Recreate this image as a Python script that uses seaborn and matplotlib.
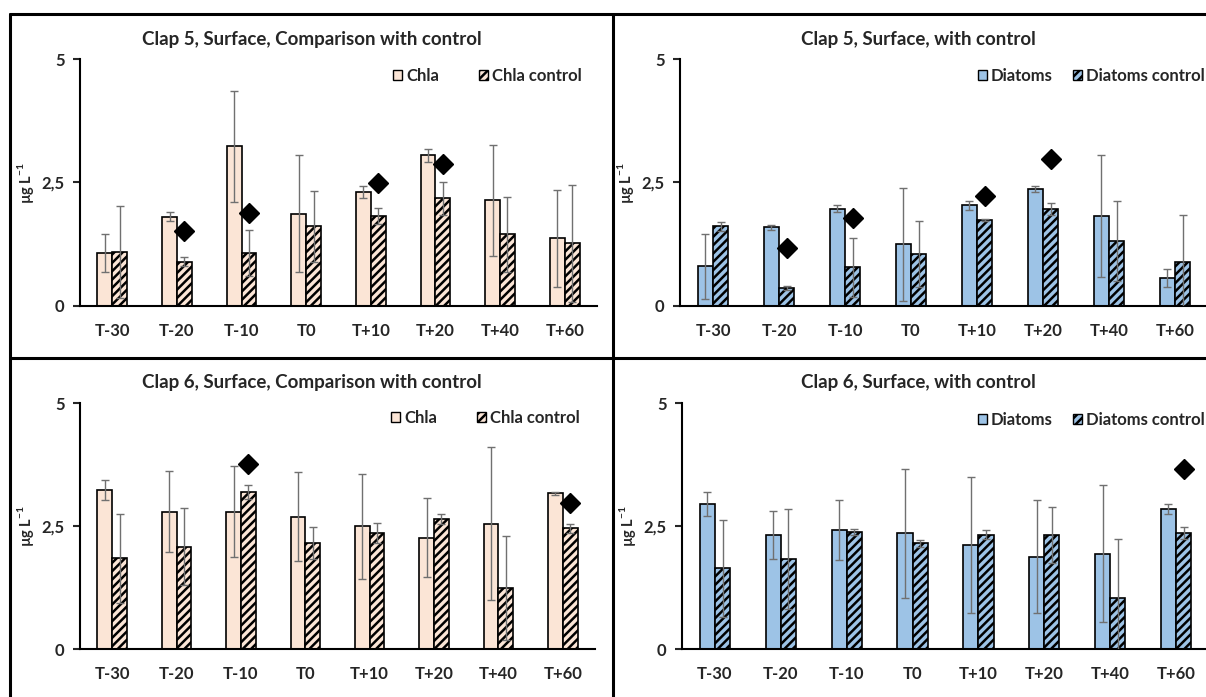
import numpy as np
import pandas as pd
import matplotlib
matplotlib.use('Agg')
import matplotlib.pyplot as plt
import seaborn as sns
from matplotlib.patches import Patch
from matplotlib.lines import Line2D

sns.set_style('white')
plt.rcParams['font.family'] = ['Lato', 'DejaVu Sans']
plt.rcParams['font.weight'] = 'bold'
plt.rcParams['axes.labelweight'] = 'bold'
plt.rcParams['mathtext.fontset'] = 'custom'
plt.rcParams['mathtext.rm'] = 'Lato'
plt.rcParams['mathtext.bf'] = 'Lato:bold'
plt.rcParams['hatch.linewidth'] = 1.8

nan = np.nan
cats = ['T-30', 'T-20', 'T-10', 'T0', 'T+10', 'T+20', 'T+40', 'T+60']
ytick_labels = ['0', '2,5', '5']

# Clap 5, Chla
c5_chla = [1.07, 1.81, 3.23, 1.87, 2.31, 3.05, 2.14, 1.37]
c5_chla_err = [0.38, 0.09, 1.12, 1.18, 0.12, 0.13, 1.12, 0.98]
c5_chla_ctrl = [1.10, 0.90, 1.07, 1.61, 1.83, 2.18, 1.45, 1.27]
c5_chla_ctrl_err = [0.93, 0.10, 0.47, 0.71, 0.16, 0.34, 0.76, 1.18]
c5_chla_sig = [nan, 1.51, 1.89, nan, 2.49, 2.87, nan, nan]

# Clap 5, Diatoms
c5_diat = [0.80, 1.59, 1.97, 1.25, 2.04, 2.37, 1.82, 0.57]
c5_diat_err = [0.65, 0.05, 0.07, 1.14, 0.09, 0.06, 1.23, 0.18]
c5_diat_ctrl = [1.61, 0.36, 0.78, 1.05, 1.74, 1.96, 1.31, 0.89]
c5_diat_ctrl_err = [0.10, 0.04, 0.60, 0.67, 0.02, 0.12, 0.81, 0.96]
c5_diat_sig = [nan, 1.17, 1.78, nan, 2.22, 2.98, nan, nan]

# Clap 6, Chla
c6_chla = [3.23, 2.79, 2.79, 2.69, 2.49, 2.26, 2.55, 3.17]
c6_chla_err = [0.20, 0.82, 0.93, 0.91, 1.06, 0.80, 1.56, 0.03]
c6_chla_ctrl = [1.84, 2.08, 3.19, 2.15, 2.36, 2.64, 1.24, 2.45]
c6_chla_ctrl_err = [0.91, 0.78, 0.15, 0.33, 0.20, 0.10, 1.05, 0.10]
c6_chla_sig = [nan, nan, 3.76, nan, nan, nan, nan, 2.96]

# Clap 6, Diatoms
c6_diat = [2.95, 2.32, 2.41, 2.35, 2.12, 1.88, 1.94, 2.85]
c6_diat_err = [0.24, 0.49, 0.61, 1.31, 1.38, 1.15, 1.40, 0.10]
c6_diat_ctrl = [1.64, 1.83, 2.38, 2.15, 2.32, 2.32, 1.04, 2.35]
c6_diat_ctrl_err = [0.98, 1.01, 0.06, 0.07, 0.09, 0.57, 1.20, 0.12]
c6_diat_sig = [nan, nan, nan, nan, nan, nan, nan, 3.65]

CHLA_COLOR = '#FBE5D6'
DIAT_COLOR = '#9DC3E6'

W, H = 1206, 697
fig = plt.figure(figsize=(W / 100, H / 100), dpi=100)


def px_axes(x0, x1, ytop, ybot):
    return fig.add_axes([x0 / W, 1 - ybot / H, (x1 - x0) / W, (ybot - ytop) / H])


def draw_panel(ax, vals, errs, ctrl, ctrl_errs, sig, name, color, title, title_x, title_y,
               leg_x, leg_y, col_space, lab_x):
    df = pd.DataFrame({'time': cats * 2,
                       'value': vals + ctrl,
                       'series': [name] * len(cats) + [name + ' control'] * len(cats)})
    sns.barplot(data=df, x='time', y='value', hue='series', palette=[color, color],
                saturation=1, width=0.46, errorbar=None, legend=False,
                edgecolor='black', linewidth=1.2, ax=ax)
    for bar in ax.containers[1]:
        bar.set_hatch('////')
    ctrl_x = None
    for cont, e in zip(ax.containers[:2], [errs, ctrl_errs]):
        xs = [b.get_x() + b.get_width() / 2 for b in cont]
        hs = [b.get_height() for b in cont]
        ax.errorbar(xs, hs, yerr=e, fmt='none', ecolor='#707070', elinewidth=1,
                    capsize=3, capthick=1, zorder=5)
        ctrl_x = xs
    ax.plot(ctrl_x, sig, linestyle='none', marker='D', color='black', markersize=10, zorder=6)

    ax.set_xlim(-0.5, 7.5)
    ax.set_ylim(0, 5)
    ax.set_yticks([0, 2.5, 5])
    ax.set_yticklabels(ytick_labels, fontsize=12, fontweight='bold')
    ax.tick_params(axis='y', direction='out', length=5, width=1.5, pad=6, left=True)
    ax.tick_params(axis='x', length=0, pad=12, labelsize=12)
    for lab in ax.get_xticklabels():
        lab.set_fontweight('bold')
    ax.set_xlabel('')
    ax.set_ylabel(r'µg L$^{\mathbf{-1}}$', fontsize=10.5)
    ax.yaxis.set_label_coords(lab_x, 0.5)
    for s in ['top', 'right']:
        ax.spines[s].set_visible(False)
    for s in ['left', 'bottom']:
        ax.spines[s].set_color('black')
        ax.spines[s].set_linewidth(1.5)

    handles = [Patch(facecolor=color, edgecolor='black', linewidth=1),
               Patch(facecolor=color, edgecolor='black', linewidth=1, hatch='////')]
    ax.legend(handles, [name, name + ' control'], ncol=2, frameon=False,
              loc='center right', bbox_to_anchor=(leg_x / W, 1 - leg_y / H),
              bbox_transform=fig.transFigure, borderpad=0, borderaxespad=0,
              handlelength=0.55, handleheight=0.55, handletextpad=0.25,
              columnspacing=col_space, prop={'size': 12, 'weight': 'bold'})
    fig.text(title_x / W, 1 - title_y / H, title, ha='center', va='center',
             fontsize=13.5, fontweight='bold')


ax1 = px_axes(80, 597, 59, 306)
draw_panel(ax1, c5_chla, c5_chla_err, c5_chla_ctrl, c5_chla_ctrl_err, c5_chla_sig,
           'Chla', CHLA_COLOR, 'Clap 5, Surface, Comparison with control', 312, 39,
           582, 76, 2.4, -0.085)

ax2 = px_axes(680, 1208, 59, 306)
draw_panel(ax2, c5_diat, c5_diat_err, c5_diat_ctrl, c5_diat_ctrl_err, c5_diat_sig,
           'Diatoms', DIAT_COLOR, 'Clap 5, Surface, with control', 918, 39,
           1205, 76, 1.2, -0.083)

ax3 = px_axes(80, 595, 403, 649)
draw_panel(ax3, c6_chla, c6_chla_err, c6_chla_ctrl, c6_chla_ctrl_err, c6_chla_sig,
           'Chla', CHLA_COLOR, 'Clap 6, Surface, Comparison with control', 312, 383,
           580, 418, 2.4, -0.085)

ax4 = px_axes(682, 1209, 403, 649)
draw_panel(ax4, c6_diat, c6_diat_err, c6_diat_ctrl, c6_diat_ctrl_err, c6_diat_sig,
           'Diatoms', DIAT_COLOR, 'Clap 6, Surface, with control', 918, 383,
           1205, 420, 1.2, -0.083)

# panel frames
frame_kw = dict(color='black', linewidth=2.2, transform=fig.transFigure)
fig.add_artist(Line2D([10 / W, 10 / W], [1 - 14 / H, 0], **frame_kw))
fig.add_artist(Line2D([613 / W, 613 / W], [1 - 14 / H, 0], **frame_kw))
fig.add_artist(Line2D([10 / W, 1], [1 - 14 / H, 1 - 14 / H], **frame_kw))
fig.add_artist(Line2D([10 / W, 1], [1 - 358 / H, 1 - 358 / H], **frame_kw))

fig.savefig('out.png', dpi=100, facecolor='white')
